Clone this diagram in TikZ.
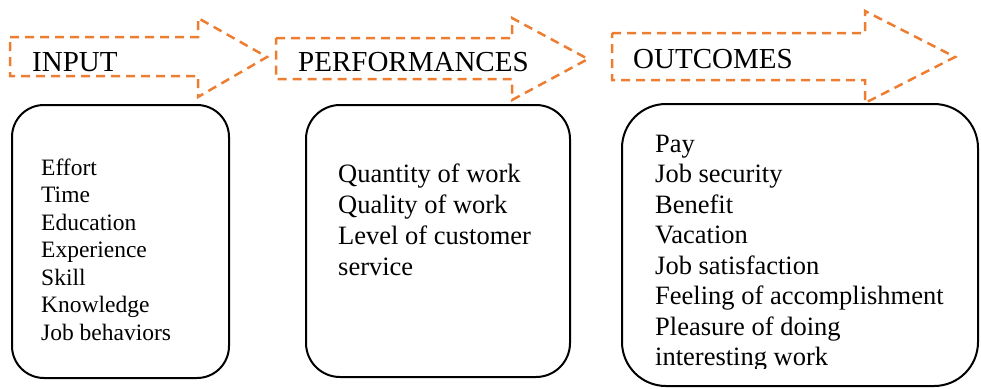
\documentclass[tikz,border=0pt]{standalone}
\usepackage{fontspec}
\setmainfont{Liberation Serif}
\definecolor{accentorange}{HTML}{ED7D31}
\begin{document}
\begin{tikzpicture}[x=1pt,y=-1pt,
  flowarrow/.style={draw=accentorange,line width=2.5pt,dash pattern=on 9pt off 6pt,line join=miter},
  stagelabel/.style={anchor=base west,inner sep=0pt,font=\fontsize{29}{31}\selectfont},
  listbox/.style={draw=black,line width=2pt,fill=white,rounded corners=#1},
  listtext/.style={anchor=base west,inner sep=0pt,align=left}]
\useasboundingbox (0,0) rectangle (981,388);

% stage arrows
\draw[flowarrow] (10,37) -- (198,37) -- (198,18) -- (267,57) -- (198,97) -- (198,76) -- (10,76) -- cycle;
\draw[flowarrow] (276,38) -- (512,38) -- (512,18) -- (588,59) -- (512,100) -- (512,79) -- (276,79) -- cycle;
\draw[flowarrow] (612,33) -- (865,33) -- (865,11) -- (955,57) -- (865,103) -- (865,80) -- (612,80) -- cycle;

\node[stagelabel] (input) at (32,71) {INPUT};
\node[stagelabel] (perf) at (298,71) {PERFORMANCES};
\node[stagelabel] (outc) at (633,68) {OUTCOMES};

% content boxes
\draw[listbox=32pt] (12,105) rectangle (229,378);
\draw[listbox=34pt] (306,105) rectangle (570,377);
\draw[listbox=44pt] (622,104) rectangle (978,386);

% lists, placed by the baseline of their last line
\node[listtext,font=\fontsize{23.5}{27.5}\selectfont] (inlist) at (41,340)
  {Effort\\Time\\Education\\Experience\\Skill\\Knowledge\\Job behaviors};
\node[listtext,font=\fontsize{26.5}{31}\selectfont] (perflist) at (338,275)
  {Quantity of work\\Quality of work\\Level of customer\\service};
\begin{scope}
  \clip (622,104) rectangle (978,368);
  \node[listtext,font=\fontsize{26.5}{30.5}\selectfont] (outlist) at (655,365.5)
    {Pay\\Job security\\Benefit\\Vacation\\Job satisfaction\\Feeling of accomplishment\\Pleasure of doing\\interesting work};
\end{scope}
\end{tikzpicture}
\end{document}
